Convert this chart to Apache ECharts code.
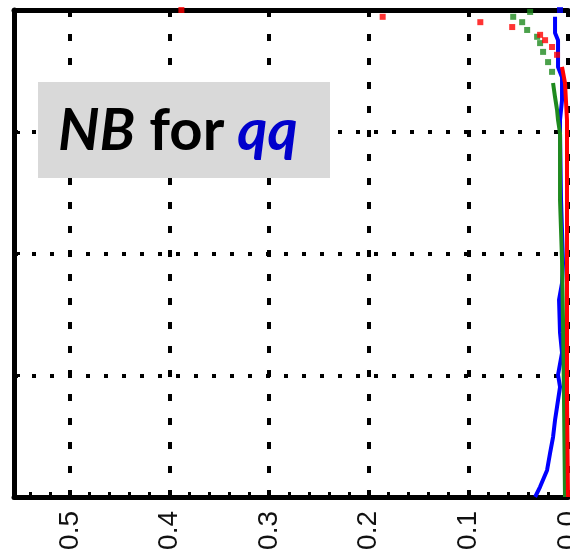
<!DOCTYPE html>
<html>
<head>
<meta charset="utf-8">
<title>NB for qq</title>
<script src="https://cdn.jsdelivr.net/npm/echarts@6/dist/echarts.min.js"></script>
<style>
  html, body { margin: 0; padding: 0; background: #fff; }
  #main { width: 570px; height: 556px; }
</style>
</head>
<body>
<div id="main"></div>
<script type="text/javascript">
// x tick labels (axis is reversed: 0.5 on the left, 0.0 on the right)
var xTicks = [0, 0.1, 0.2, 0.3, 0.4, 0.5];

// sparse single points near the top, [value, fraction]
var redDots = [[0.388, 1.0], [0.186, 0.986], [0.088, 0.975], [0.056, 0.965],
    [0.028, 0.949], [0.023, 0.938], [0.016, 0.924], [0.011, 0.908]];
var greenDots = [[0.038, 0.996], [0.055, 0.986], [0.046, 0.975], [0.041, 0.959], [0.031, 0.945],
    [0.028, 0.932], [0.025, 0.914], [0.020, 0.893], [0.016, 0.873]];
var blueDots = [[0.008, 1.0]];

// dense part of each curve
var redLine = [[0.006, 0.883], [0.003, 0.850], [0.001, 0.774], [0.001, 0.507], [0.001, 0.199], [0.0, 0.0]];
var greenLine = [[0.015, 0.850], [0.013, 0.821], [0.011, 0.795], [0.010, 0.774], [0.008, 0.747],
    [0.008, 0.610], [0.006, 0.487], [0.005, 0.363], [0.004, 0.199], [0.003, 0.0]];
var blueLine = [[0.013, 0.986], [0.013, 0.953], [0.010, 0.938], [0.010, 0.883], [0.006, 0.862],
    [0.006, 0.815], [0.008, 0.774], [0.008, 0.747], [0.007, 0.610], [0.005, 0.480],
    [0.006, 0.439], [0.009, 0.405], [0.008, 0.337], [0.006, 0.296], [0.010, 0.251],
    [0.008, 0.226], [0.011, 0.185], [0.013, 0.158], [0.015, 0.123], [0.018, 0.090],
    [0.021, 0.055], [0.028, 0.021], [0.033, 0.0]];

var RED = '#ff0000', GREEN = '#1e8a1e', BLUE = '#0000ff';

var myChart = echarts.init(document.getElementById('main'));

function dots(name, data, color) {
    return {
        name: name, type: 'scatter', data: data, symbol: 'rect', symbolSize: 6,
        itemStyle: { color: color }, clip: false, silent: true, z: 3
    };
}
function curve(name, data, color) {
    return {
        name: name, type: 'line', data: data, showSymbol: false, smooth: false,
        lineStyle: { color: color, width: 4 }, clip: false, silent: true, z: 3
    };
}

var option = {
    animation: false,
    backgroundColor: '#ffffff',
    grid: { left: 14, top: 10, width: 554, height: 487, outerBoundsMode: 'none', containLabel: false },
    xAxis: [{
        type: 'value', inverse: true, min: 0, max: 0.556, interval: 0.1,
        axisLine: { show: true, onZero: false, lineStyle: { color: '#000', width: 5 } },
        axisTick: { show: true, inside: true, length: 6, lineStyle: { color: '#000', width: 3 } },
        minorTick: { show: true, splitNumber: 5, length: 5, lineStyle: { color: '#000', width: 3 } },
        axisLabel: {
            rotate: 90, margin: 14, fontSize: 28, color: '#111', fontFamily: 'Liberation Sans',
            showMaxLabel: false, hideOverlap: false,
            formatter: function (v) { return xTicks.indexOf(Math.round(v * 10) / 10) >= 0 ? v.toFixed(1) : ''; }
        },
        splitLine: { show: true, lineStyle: { color: '#000', width: 4, type: [7, 17] } }
    }, {
        type: 'value', inverse: true, min: 0, max: 0.556, position: 'top',
        axisLine: { show: true, onZero: false, lineStyle: { color: '#000', width: 5 } },
        axisTick: { show: false }, axisLabel: { show: false }, splitLine: { show: false }
    }],
    yAxis: {
        type: 'value', min: 0, max: 1, interval: 0.25,
        axisLine: { show: true, onZero: false, lineStyle: { color: '#000', width: 5 } },
        axisTick: { show: true, inside: true, length: 6, lineStyle: { color: '#000', width: 3 } },
        axisLabel: { show: false },
        splitLine: { show: true, lineStyle: { color: '#000', width: 4, type: [4, 14] } }
    },
    series: [
        curve('blue', blueLine, BLUE),
        dots('blue dots', blueDots, BLUE),
        curve('green', greenLine, GREEN),
        dots('green dots', greenDots, GREEN),
        curve('red', redLine, RED),
        dots('red dots', redDots, RED)
    ],
    graphic: [{
        type: 'rect', left: 38, top: 82, z: 10,
        shape: { width: 292, height: 96 },
        style: { fill: '#d9d9d9' }
    }, {
        type: 'text', x: 58, y: 131, z: 11,
        style: {
            text: '{a|NB}{b|\u00a0for\u00a0}{c|qq}',
            verticalAlign: 'middle',
            rich: {
                a: { fontFamily: 'Lato', fontWeight: 'bold', fontStyle: 'italic', fontSize: 58, fill: '#000' },
                b: { fontFamily: 'Lato', fontWeight: 'bold', fontSize: 58, fill: '#000' },
                c: { fontFamily: 'Lato', fontWeight: 'bold', fontStyle: 'italic', fontSize: 58, fill: '#0000cc' }
            }
        }
    }]
};

myChart.setOption(option);
</script>
</body>
</html>
